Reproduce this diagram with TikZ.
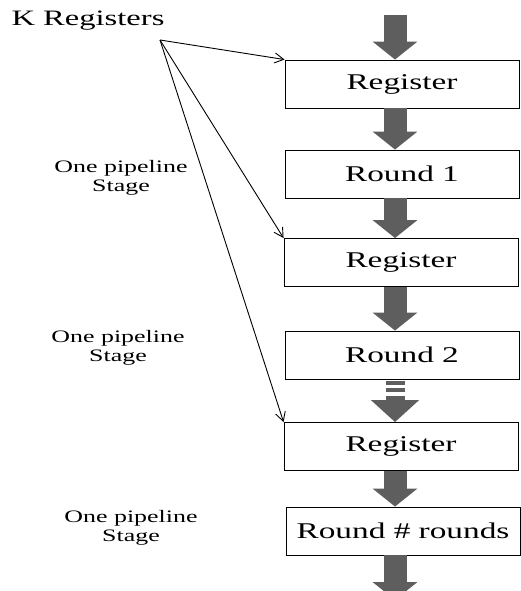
\documentclass[tikz,border=0pt]{standalone}
\usepackage{fontspec}
\setmainfont{Liberation Serif}
\usepackage{graphicx}
\usetikzlibrary{arrows.meta}

\definecolor{flowgray}{HTML}{5E5E5E}
\newcommand{\wide}[1]{\scalebox{1.48}[1]{#1}}

\tikzset{every picture/.style={line width=0.75pt}}
\tikzset{
    stagebox/.style={draw, line width=0.9pt, minimum width=234pt, minimum height=48pt, inner sep=0pt,
        font=\fontsize{22.5}{27}\selectfont},
    flow/.style={draw=flowgray, line width=23pt, -{Triangle[width=44pt, length=18pt]}},
    pointer/.style={line width=0.9pt, -{Straight Barb[length=9pt, width=10pt]}},
    note/.style={align=center, font=\fontsize{17.5}{19}\selectfont, inner sep=0pt}
}

\begin{document}
\begin{tikzpicture}[x=1pt, y=-1pt]
    \useasboundingbox (0,0) rectangle (521,591);

    % pipeline column
    \node[stagebox] (reg1) at (402,84)    {\wide{Register}};
    \node[stagebox] (rnd1) at (402,174)   {\wide{Round 1}};
    \node[stagebox] (reg2) at (401,262.5) {\wide{Register}};
    \node[stagebox] (rnd2) at (402,355)   {\wide{Round 2}};
    \node[stagebox] (reg3) at (401,446.5) {\wide{Register}};
    \node[stagebox] (rndN) at (403,531)   {\wide{Round \# rounds}};

    \coordinate (spine) at (395,0);
    \coordinate (in) at (395,15);
    \coordinate (out) at (395,600);

    \draw[flow] (in) -- (reg1.north -| spine);
    \draw[flow] (reg1.south -| spine) -- (rnd1.north -| spine);
    \draw[flow] (rnd1.south -| spine) -- (reg2.north -| spine);
    \draw[flow] (reg2.south -| spine) -- (rnd2.north -| spine);
    \draw[flow, line width=19pt, dash pattern=on 4pt off 3.5pt, dash phase=-1.5pt,
        -{Triangle[width=47pt, length=22pt]}] (rnd2.south -| spine) -- (reg3.north -| spine);
    \draw[flow] (reg3.south -| spine) -- (rndN.north -| spine);
    \draw[flow] (rndN.south -| spine) -- (out);

    % labels on the left
    \node[inner sep=0pt, font=\fontsize{22}{26}\selectfont] (kreg) at (88,21) {\wide{K Registers}};
    \coordinate (src) at (160,40);
    \draw[pointer] (src) -- (reg1.north west);
    \draw[pointer] (src) -- (reg2.north west);
    \draw[pointer] (src) -- (reg3.north west);

    \node[note] (stage1) at (121,178) {\wide{One pipeline}\\\wide{Stage}};
    \node[note] (stage2) at (118,348) {\wide{One pipeline}\\\wide{Stage}};
    \node[note] (stage3) at (131,528) {\wide{One pipeline}\\\wide{Stage}};
\end{tikzpicture}
\end{document}
